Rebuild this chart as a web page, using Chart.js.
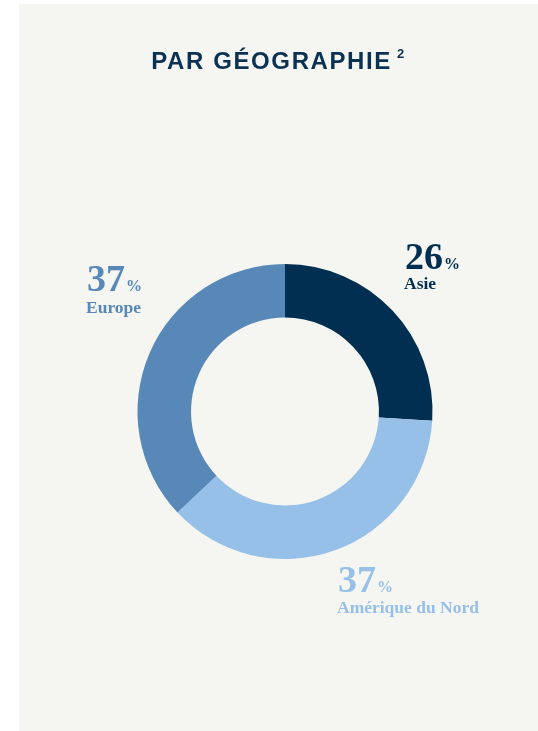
<!DOCTYPE html>
<html><head><meta charset="utf-8">
<script src="https://cdn.jsdelivr.net/npm/chart.js@4.4.1/dist/chart.umd.min.js"></script>
<style>
html,body{margin:0;padding:0;background:#ffffff;width:538px;height:731px;overflow:hidden;}
#panel{position:absolute;left:19px;top:4px;width:519px;height:727px;background:#f5f5f1;}
#wrap{position:absolute;left:0;top:0;width:538px;height:731px;}
</style></head>
<body>
<div id="panel"></div>
<div id="wrap"><canvas id="c" width="538" height="731"></canvas></div>
<script>
const title = "PAR GÉOGRAPHIE";
const titleSup = "2";
const categories = ["Asie", "Amérique du Nord", "Europe"];
const values = [26, 37, 37];
const valueLabels = ["26", "37", "37"];
const colors = ["#012f51", "#97c0e8", "#5888b7"];

// label anchor layout (left x, number baseline, name baseline)
const labelLayout = [
  {x: 405, nb: 269, tb: 289},
  {x: 338, nb: 591.5, tb: 613},
  {x: 87, nb: 291, tb: 313}
];

const textPlugin = {
  id: 'texts',
  afterDraw(chart) {
    const ctx = chart.ctx;
    ctx.save();
    // title
    ctx.fillStyle = "#0b3253";
    ctx.font = "bold 24px 'Liberation Sans', Arial, sans-serif";
    ctx.letterSpacing = "1.6px";
    ctx.textBaseline = "alphabetic";
    ctx.textAlign = "left";
    const tw = ctx.measureText(title).width;
    ctx.font = "bold 13px 'Liberation Sans', Arial, sans-serif";
    const sw = ctx.measureText(titleSup).width;
    const total = tw + 5 + sw;
    const cx = 278.5;
    let x0 = cx - total / 2;
    ctx.font = "bold 24px 'Liberation Sans', Arial, sans-serif";
    ctx.fillText(title, x0, 68.5);
    ctx.font = "bold 13px 'Liberation Sans', Arial, sans-serif";
    ctx.fillText(titleSup, x0 + tw + 5, 58);
    ctx.letterSpacing = "0px";
    // labels
    categories.forEach((cat, i) => {
      const L = labelLayout[i];
      ctx.fillStyle = colors[i];
      ctx.font = "bold 38px 'Liberation Serif', 'Times New Roman', serif";
      ctx.fillText(valueLabels[i], L.x, L.nb);
      const w = ctx.measureText(valueLabels[i]).width;
      ctx.font = "bold 16px 'Liberation Serif', 'Times New Roman', serif";
      ctx.fillText("%", L.x + w + 1, L.nb);
      ctx.font = "bold 17.5px 'Liberation Serif', 'Times New Roman', serif";
      ctx.fillText(cat, L.x - 1, L.tb);
    });
    ctx.restore();
  }
};

new Chart(document.getElementById('c'), {
  type: 'doughnut',
  data: {
    labels: categories,
    datasets: [{
      data: values,
      backgroundColor: colors,
      borderWidth: 0,
      hoverOffset: 0
    }]
  },
  options: {
    responsive: false,
    animation: false,
    cutout: '63.7%',
    rotation: 0,
    layout: { padding: { left: 137.5, right: 105.5, top: 264, bottom: 172 } },
    plugins: { legend: { display: false }, tooltip: { enabled: false }, title: { display: false } },
    events: []
  },
  plugins: [textPlugin]
});
</script>
</body></html>
